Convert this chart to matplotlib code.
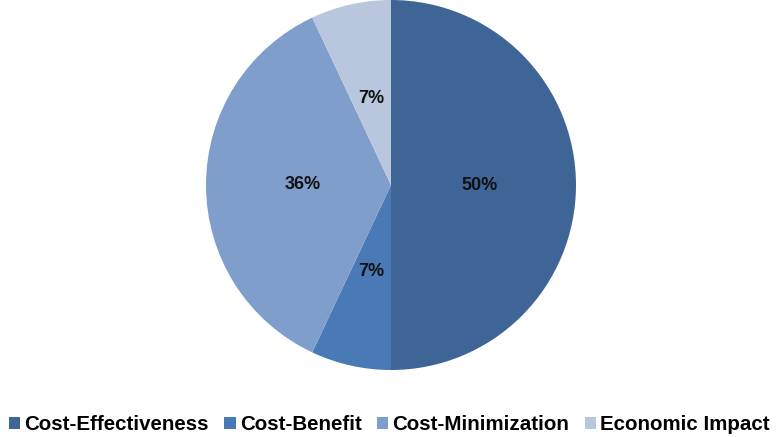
import matplotlib.pyplot as plt

# Data
categories = ['Cost-Effectiveness', 'Cost-Benefit', 'Cost-Minimization', 'Economic Impact']
shares = [50, 7, 36, 7]
colors = ['#3F6597', '#4A7AB5', '#7F9ECB', '#B9C7DE']

plt.rcParams['font.family'] = ['Liberation Sans', 'DejaVu Sans']

fig = plt.figure(figsize=(7.79, 4.37), dpi=100)
ax = fig.add_axes([206 / 779, 67 / 437, 370 / 779, 370 / 437])

wedges, texts, autotexts = ax.pie(
    shares, colors=colors, startangle=90, counterclock=False,
    autopct='%1.0f%%', pctdistance=0.48,
    wedgeprops={'linewidth': 0},
    textprops={'fontsize': 13, 'fontweight': 'bold', 'color': '#111111'},
)
ax.set_xlim(-1, 1)
ax.set_ylim(-1, 1)
ax.set_aspect('equal')

# Legend along the bottom
fig.legend(wedges, categories, loc='lower center', ncol=4, frameon=False,
           bbox_to_anchor=(0.5, -0.026), prop={'size': 14.8, 'weight': 'bold'},
           handlelength=0.55, handleheight=0.55, handletextpad=0.2, columnspacing=0.75,
           borderpad=0.2)

fig.savefig('out.png', dpi=100)
